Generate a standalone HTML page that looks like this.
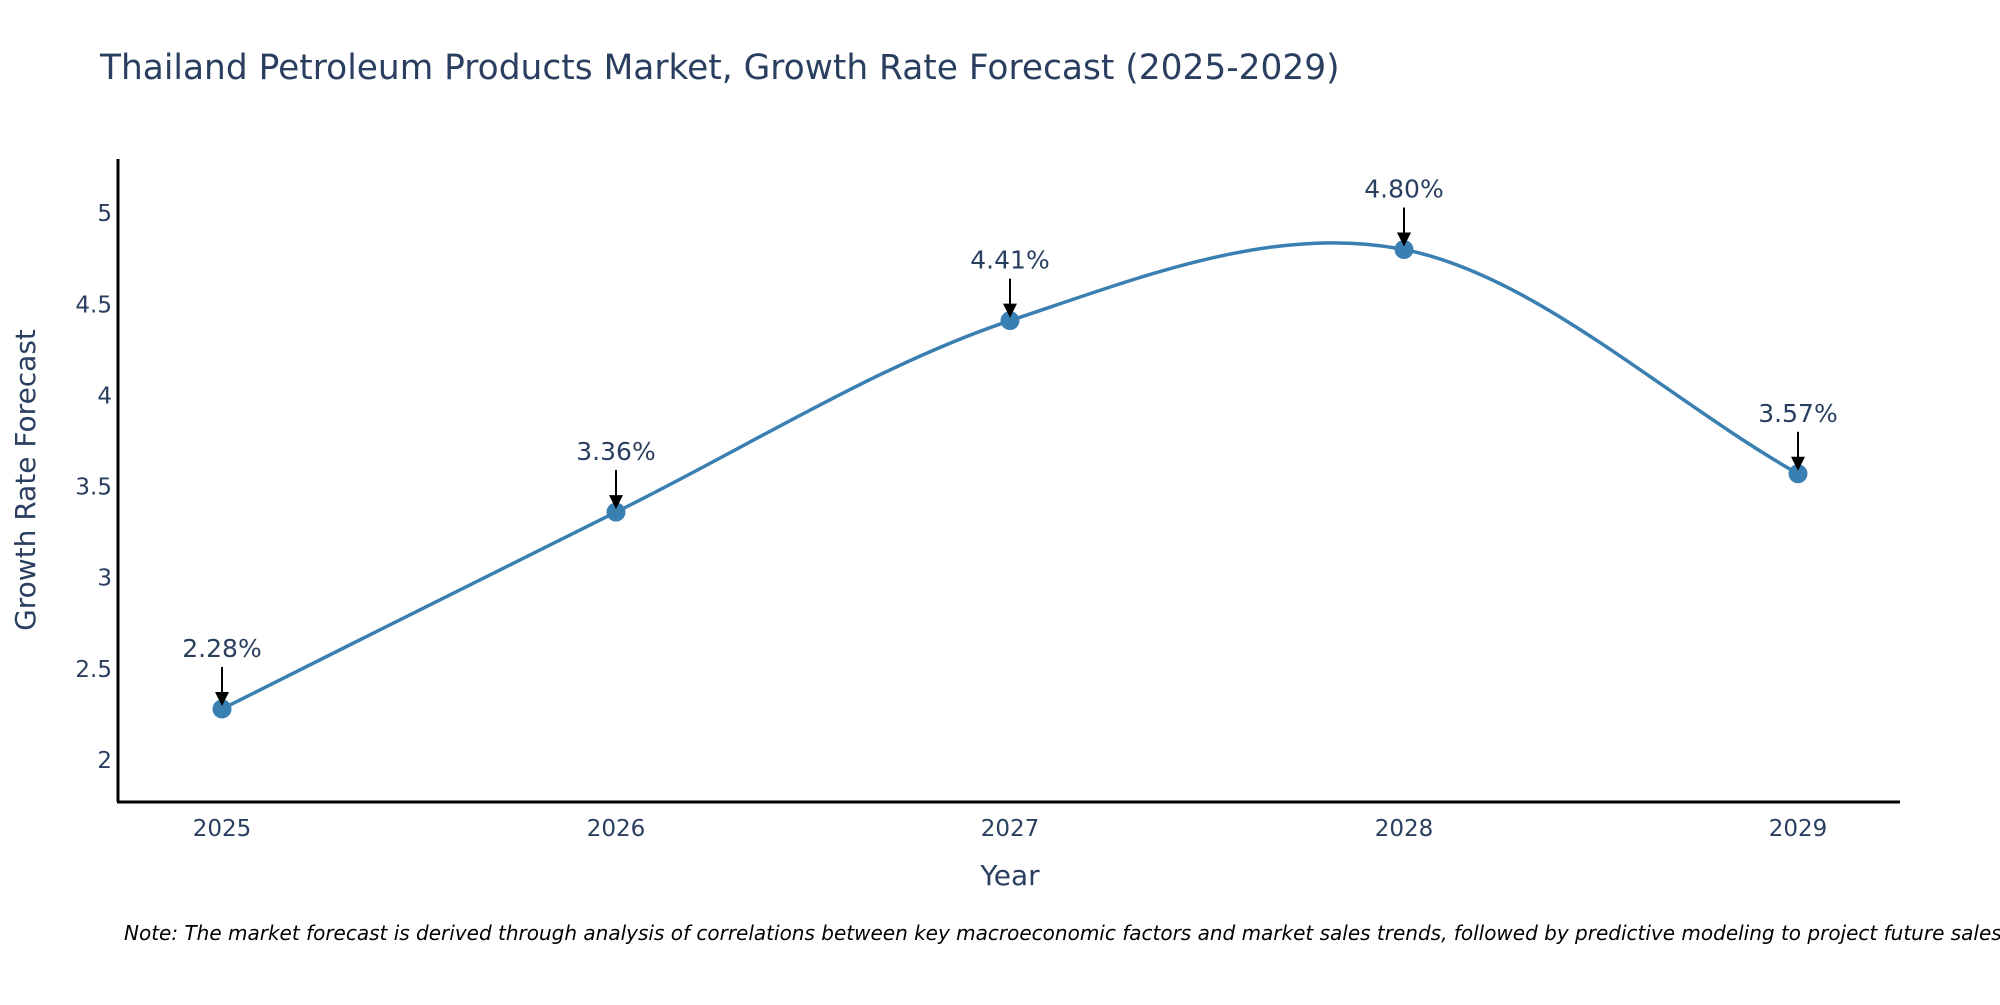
<!DOCTYPE html>
<html><head><meta charset="utf-8"><style>
body{margin:0;background:#fff;width:2000px;height:1000px;overflow:hidden}
svg text{font-family:"DejaVu Sans","Liberation Sans",sans-serif;fill:#2a3f5f}
</style></head><body>
<svg id="chart" width="2000" height="1000" xmlns="http://www.w3.org/2000/svg">
<text x="100" y="79" font-size="34.4">Thailand Petroleum Products Market, Growth Rate Forecast (2025-2029)</text>
<g id="yticks"></g>
<g id="xticks"></g>
<line x1="118" y1="159" x2="118" y2="802" stroke="#000" stroke-width="3"/>
<line x1="117" y1="802" x2="1900" y2="802" stroke="#000" stroke-width="3"/>
<text transform="translate(35,480) rotate(-90)" text-anchor="middle" font-size="28">Growth Rate Forecast</text>
<text x="1010" y="885" text-anchor="middle" font-size="28">Year</text>
<path id="line" fill="none" stroke="#3a7fb2" stroke-width="3.5"/>
<g id="marks"></g>
<text x="124" y="940" font-size="20" font-style="italic" style="fill:#000">Note: The market forecast is derived through analysis of correlations between key macroeconomic factors and market sales trends, followed by predictive modeling to project future sales.</text>
</svg>
<script>
const years=[2025,2026,2027,2028,2029];
const values=[2.28,3.36,4.41,4.80,3.57];
const labels=["2.28%","3.36%","4.41%","4.80%","3.57%"];
const yTicks=[2,2.5,3,3.5,4,4.5,5];
const NS="http://www.w3.org/2000/svg";
const X=y=>222+(y-2025)*394;
const Y=v=>760-(v-2)*182.3;
const yt=document.getElementById('yticks');
yTicks.forEach(t=>{const e=document.createElementNS(NS,'text');


e.setAttribute('x',112);e.setAttribute('y',Y(t)+8);e.setAttribute('text-anchor','end');e.setAttribute('font-size','23');e.textContent=String(t);yt.appendChild(e);});
const xt=document.getElementById('xticks');
years.forEach(t=>{const e=document.createElementNS(NS,'text');


e.setAttribute('x',X(t));e.setAttribute('y',836);e.setAttribute('text-anchor','middle');e.setAttribute('font-size','23');e.textContent=String(t);xt.appendChild(e);});
const P=years.map((y,i)=>[X(y),Y(values[i])]);
let d=`M${P[0][0]},${P[0][1]}`;
const n=P.length,tan=[];
for(let i=0;i<n;i++){const a=P[Math.max(0,i-1)],b=P[Math.min(n-1,i+1)];const k=(i===0||i===n-1)?3:6;tan.push([(b[0]-a[0])/k,(b[1]-a[1])/k]);}
for(let i=0;i<n-1;i++){
 const c1=[P[i][0]+tan[i][0],P[i][1]+tan[i][1]],c2=[P[i+1][0]-tan[i+1][0],P[i+1][1]-tan[i+1][1]];
 d+=` C${c1[0]},${c1[1]} ${c2[0]},${c2[1]} ${P[i+1][0]},${P[i+1][1]}`;}
document.getElementById('line').setAttribute('d',d);
const g=document.getElementById('marks');
P.forEach((p,i)=>{
 const c=document.createElementNS(NS,'circle');
 
 
 c.setAttribute('cx',p[0]);c.setAttribute('cy',p[1]);c.setAttribute('r',9.5);c.setAttribute('fill','#3a7fb2');g.appendChild(c);
 const l=document.createElementNS(NS,'line');
 
 
 l.setAttribute('x1',p[0]);l.setAttribute('y1',p[1]-42);l.setAttribute('x2',p[0]);l.setAttribute('y2',p[1]-14);l.setAttribute('stroke','#000');l.setAttribute('stroke-width','2');g.appendChild(l);
 const h=document.createElementNS(NS,'polygon');
 
 
 h.setAttribute('points',`${p[0]-7},${p[1]-17} ${p[0]+7},${p[1]-17} ${p[0]},${p[1]-3}`);h.setAttribute('fill','#000');g.appendChild(h);
 const t=document.createElementNS(NS,'text');
 
 
 t.setAttribute('x',p[0]);t.setAttribute('y',p[1]-52);t.setAttribute('text-anchor','middle');t.setAttribute('font-size','25');t.textContent=labels[i];g.appendChild(t);
});
</script>
</body></html>
